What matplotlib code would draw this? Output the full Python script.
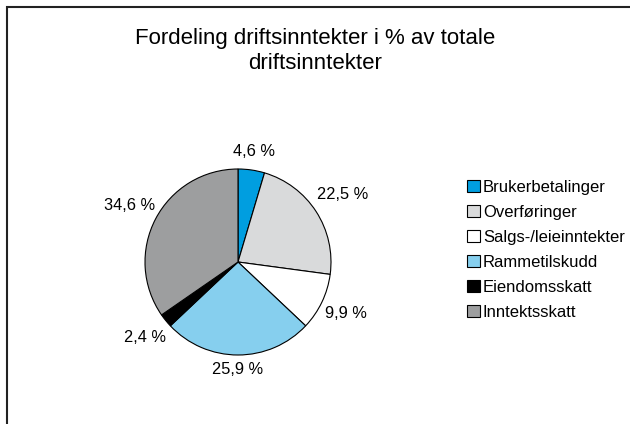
import matplotlib
matplotlib.use("Agg")
import matplotlib.pyplot as plt
import numpy as np
from matplotlib.patches import Rectangle

categories = ["Brukerbetalinger", "Overføringer", "Salgs-/leieinntekter",
              "Rammetilskudd", "Eiendomsskatt", "Inntektsskatt"]
values = [4.6, 22.5, 9.9, 25.9, 2.4, 34.6]
labels = ["4,6 %", "22,5 %", "9,9 %", "25,9 %", "2,4 %", "34,6 %"]
colors = ["#009ee0", "#d9dadb", "#ffffff", "#86cfee", "#000000", "#9d9e9f"]
title = "Fordeling driftsinntekter i % av totale\ndriftsinntekter"

plt.rcParams['font.family'] = ['Liberation Sans', 'DejaVu Sans']

W, H = 630, 424
fig = plt.figure(figsize=(W / 100, H / 100), dpi=100)

# partial frame (top and left edges visible)
fig.patches.append(Rectangle((7 / W, -0.1), 1.2, (H - 7.5) / H + 0.1,
                             transform=fig.transFigure, fill=False,
                             edgecolor="#222222", linewidth=1.5))

cx, cy, r = 238, H - 262, 93
ax = fig.add_axes([(cx - r) / W, (cy - r) / H, 2 * r / W, 2 * r / H])
wedges, _ = ax.pie(values, colors=colors, startangle=90, counterclock=False,
                   wedgeprops=dict(edgecolor="black", linewidth=0.8))
ax.set_xlim(-1, 1)
ax.set_ylim(-1, 1)
ax.set_aspect("equal")

dists = [1.2, 1.34, 1.28, 1.16, 1.29, 1.32]
for w, lab, d in zip(wedges, labels, dists):
    ang = np.deg2rad((w.theta1 + w.theta2) / 2)
    x, y = d * np.cos(ang), d * np.sin(ang)
    ax.text(x, y, lab, ha="center", va="center", fontsize=11.8,
            clip_on=False)

fig.text(0.5, 1 - 51 / H, title, ha="center", va="center",
         fontsize=16, linespacing=1.22)

handles = [Rectangle((0, 0), 1, 1, facecolor=c, edgecolor="black", linewidth=0.8)
           for c in colors]
fig.legend(handles, categories, loc="center left",
           bbox_to_anchor=(467 / W, 1 - 250 / H), frameon=False,
           fontsize=12, handlelength=0.75, handleheight=0.75,
           handletextpad=0.2, labelspacing=0.6, borderaxespad=0,
           borderpad=0)

fig.savefig("out.png", dpi=100)
